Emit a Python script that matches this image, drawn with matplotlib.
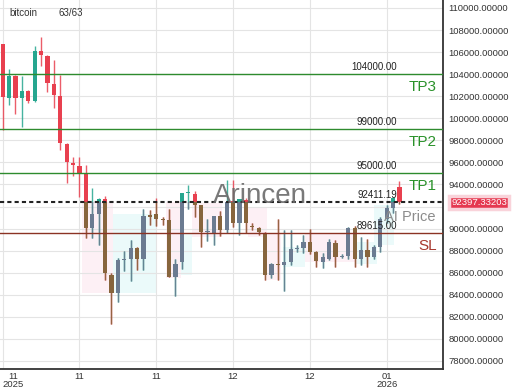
import numpy as np
import matplotlib.pyplot as plt
import matplotlib.transforms as mtransforms
from matplotlib.patches import Rectangle
from matplotlib.ticker import FuncFormatter

plt.rcParams['font.family'] = ['Liberation Sans', 'DejaVu Sans']

# daily candles, 63 bars (Nov 2025 - Jan 2026)
opens = [106700, 101870, 103860, 101870, 102500, 101600, 106100, 105650, 103110, 102050,
         97700, 95980, 95680, 95070, 90030, 91320, 92660, 85790, 84140, 87130,
         87200, 88210, 87220, 91200, 91300, 90840, 90800, 85640, 87000, 93200,
         93140, 92140, 89650, 89600, 91140, 89880, 92500, 90480, 92600, 90250,
         90030, 89570, 85790, 86770, 86700, 87000, 88150, 88200, 88810, 87900,
         86950, 87200, 88700, 87450, 87500, 90030, 87220, 88060, 87400, 88300,
         90840, 91840, 93800]
highs = [106750, 104440, 103900, 103860, 102570, 106580, 107400, 105700, 105290, 103930,
         97800, 96510, 96510, 95770, 93650, 92750, 92960, 85950, 87350, 88000,
         88970, 88300, 91750, 91690, 92750, 91080, 91750, 87220, 93250, 93950,
         93440, 92140, 90840, 91140, 91600, 94410, 94410, 92660, 92750, 90480,
         90180, 89700, 86900, 90900, 89850, 89850, 88500, 89420, 90000, 88000,
         87800, 89100, 88970, 87700, 90180, 90200, 89270, 89100, 88500, 91080,
         92140, 92900, 94320]
lows = [98950, 101200, 100360, 99240, 101420, 101500, 104740, 102410, 100910, 97130,
        94110, 94800, 92890, 89150, 89150, 88510, 85340, 81380, 83370, 86130,
        85280, 86250, 86250, 90330, 90240, 90330, 85600, 83890, 86310, 91750,
        91080, 88360, 88900, 88490, 89300, 89600, 90180, 89420, 89570, 89900,
        89450, 85340, 85500, 85340, 84370, 86700, 87900, 87760, 87700, 86550,
        86400, 87150, 86550, 87350, 87220, 86550, 86700, 86550, 87200, 87900,
        90500, 91400, 92250]
closes = [101900, 103860, 101870, 102500, 101600, 106100, 105740, 103230, 102110, 97790,
          96070, 95770, 95070, 90030, 91320, 92660, 85950, 84140, 87130, 87200,
          88210, 87220, 91140, 91050, 90840, 90800, 85640, 86790, 93200, 93250,
          92140, 89650, 89700, 91140, 89880, 92440, 90480, 92660, 90480, 90150,
          89720, 85790, 86770, 86700, 87000, 88150, 88200, 88810, 87900, 87090,
          87400, 88810, 87400, 87500, 90030, 87220, 88060, 87400, 88300, 90840,
          91840, 92750, 92397.33203]

tick_pos = [0, 12, 24, 36, 48, 60]
tick_labels = ['11\n2025', '11', '11', '12', '12', '01\n2026']

tp_levels = [104000, 99000, 95000]
tp_names = ['TP3', 'TP2', 'TP1']
sl_level = 89615.00
entry_level = 92411.19
last_price = 92397.33203

# faint zone shading (index from, index to, price low, price high, kind)
zones = [(12.4, 17.3, 84200, 92400, 'p'), (17.3, 24.0, 84200, 91300, 'c'),
         (25.5, 27.8, 85500, 92400, 'p'), (27.8, 29.6, 85800, 89600, 'c'),
         (29.6, 34.3, 89250, 92300, 'p'), (38.3, 41.3, 89250, 92000, 'p'),
         (41.3, 43.5, 85300, 89600, 'p'), (43.8, 47.2, 86500, 88300, 'c'),
         (47.2, 55.0, 86950, 89600, 'p'), (55.0, 58.5, 86800, 88800, 'c'),
         (58.0, 61.2, 88500, 92100, 'c')]

fig = plt.figure(figsize=(5.2, 3.9), dpi=100)
ax = fig.add_axes([0, 1 - 369 / 390, 443 / 520, 369 / 390])

x = np.arange(len(opens))
o = np.array(opens, float)
h = np.array(highs, float)
l = np.array(lows, float)
c = np.array(closes, float)
up = c >= o

for x0, x1, y0, y1, k in zones:
    ax.add_patch(Rectangle((x0, y0), x1 - x0, y1 - y0, lw=0,
                           color='#fdf0f5' if k == 'p' else '#ebfafa', zorder=0.5))

body_lo = np.minimum(o, c)
body_h = np.maximum(np.abs(c - o), 90)


def draw_candles(col_up, col_dn, clip=None):
    cols = np.where(up, col_up, col_dn)
    wl = ax.vlines(x, l, h, colors=cols, lw=1.0, zorder=2, alpha=0.85)
    bars = ax.bar(x, body_h, 0.68, bottom=body_lo, color=cols, lw=0, zorder=2.1)
    if clip is not None:
        wl.set_clip_path(clip)
        for b in bars:
            b.set_clip_path(clip)


draw_candles('#26a68f', '#e8404f')
# muted copies below the entry line
clip = Rectangle((-5, 60000), 90, entry_level - 60000, transform=ax.transData)
draw_candles('#6b7b91', '#87653d', clip)

# level lines
for lvl in tp_levels:
    ax.axhline(lvl, color='#2e8b2e', lw=1.0, zorder=3)
ax.axhline(sl_level, color='#8b3324', lw=1.0, zorder=3)
ax.axhline(entry_level, color='#222222', lw=1.5, ls=(0, (2, 1.5)), zorder=3)

trans = mtransforms.blended_transform_factory(ax.transAxes, ax.transData)
for lvl, name in zip(tp_levels, tp_names):
    ax.annotate(f'{lvl:.2f}', xy=(1, lvl), xycoords=trans, xytext=(-46, 2),
                textcoords='offset pixels', ha='right', va='bottom',
                fontsize=7, color='#222222', zorder=5)
    ax.annotate(name, xy=(1, lvl), xycoords=trans, xytext=(-6, -13),
                textcoords='offset pixels', ha='right', va='center',
                fontsize=11, color='#2a922a', zorder=5)
for lvl in [entry_level, sl_level]:
    ax.annotate(f'{lvl:.2f}', xy=(1, lvl), xycoords=trans, xytext=(-46, 2),
                textcoords='offset pixels', ha='right', va='bottom',
                fontsize=7, color='#222222', zorder=5)
ax.annotate('SL', xy=(1, sl_level), xycoords=trans, xytext=(-6, -13),
            textcoords='offset pixels', ha='right', va='center',
            fontsize=11, color='#a8382e', zorder=5)

# last price tag on the axis
ax.annotate(f'{last_price:.5f}', xy=(1, last_price), xycoords=trans, xytext=(8, 0),
            textcoords='offset pixels', ha='left', va='center', fontsize=6.8,
            color='white', zorder=6, annotation_clip=False,
            bbox=dict(boxstyle='square,pad=0.2', fc='#e53950', ec='#f9d3da', lw=2.5))

# watermarks
ax.text(213 / 443, (369 - 203) / 369, 'Arincen', transform=ax.transAxes,
        fontsize=20, color='#6a6a6a', alpha=0.9, va='baseline', ha='left', zorder=4)
ax.text(436 / 443, (369 - 221) / 369, 'AI Price', transform=ax.transAxes,
        fontsize=10.5, color='#8c8c8c', va='baseline', ha='right', zorder=4)

ax.text(9 / 443, (369 - 13) / 369, 'bitcoin', transform=ax.transAxes,
        fontsize=7, color='#333333', va='center', ha='left')
ax.text(59 / 443, (369 - 13) / 369, '63/63', transform=ax.transAxes,
        fontsize=7, color='#333333', va='center', ha='left')

# axes
ax.set_xlim(-0.42, 68.8)
ax.set_ylim(77272, 110725)
ax.yaxis.tick_right()
ax.set_yticks(np.arange(78000, 110001, 2000))
ax.yaxis.set_major_formatter(FuncFormatter(lambda v, p: '' if v == 92000 else f'{v:.5f}'))
ax.set_xticks(tick_pos)
ax.set_xticklabels(tick_labels)
ax.tick_params(axis='both', length=0, labelsize=6.8, colors='#333333')
ax.tick_params(axis='y', pad=4)
ax.tick_params(axis='x', pad=2)
first = ax.get_xticklabels()[0]
first.set_transform(first.get_transform() + mtransforms.ScaledTranslation(0.1, 0, fig.dpi_scale_trans))
for lab in ax.get_xticklabels():
    lab.set_linespacing(0.9)

ax.grid(True, color='#e4e4e4', lw=0.8, zorder=0)
ax.set_axisbelow(True)
for s in ['top', 'left']:
    ax.spines[s].set_visible(False)
for s in ['right', 'bottom']:
    ax.spines[s].set_color('#333333')
    ax.spines[s].set_linewidth(1.3)

fig.savefig('out.png', dpi=100)
